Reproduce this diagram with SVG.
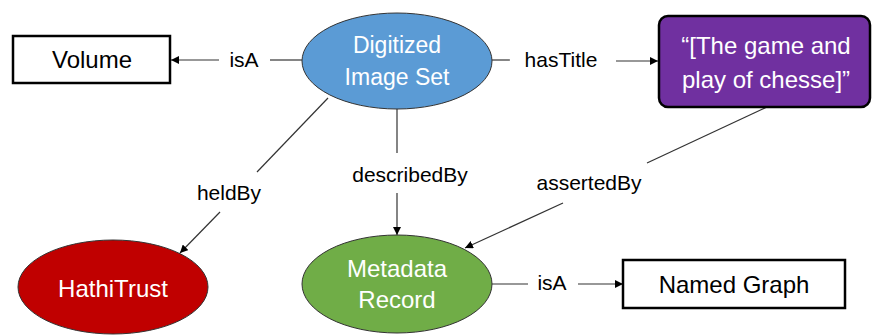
<svg xmlns="http://www.w3.org/2000/svg" width="872" height="335" viewBox="0 0 872 335">
<style>
.lbl{font-family:"Liberation Sans",Arial,sans-serif;font-size:21px;fill:#000;text-anchor:middle}
.nt{font-family:"Liberation Sans",Arial,sans-serif;font-size:24px;text-anchor:middle}
.w{fill:#fff}
.k{fill:#000}
.box{fill:#fff;stroke:#000;stroke-width:2.5}
.ell{stroke:#333;stroke-width:1}
.ln{stroke:#333;stroke-width:1.2;fill:none}
</style>
<defs>
<marker id="ah" viewBox="0 0 10 10" refX="10" refY="5" markerWidth="8" markerHeight="8" markerUnits="userSpaceOnUse" orient="auto">
<path d="M0,0 L10,5 L0,10 z" fill="#000"/>
</marker>
</defs>
<g id="connectors">
<line class="ln" x1="302" y1="60" x2="270" y2="60"/>
<line class="ln" x1="219" y1="60" x2="171" y2="60" marker-end="url(#ah)"/>
<text class="lbl" x="244" y="67">isA</text>
<line class="ln" x1="492" y1="60" x2="510" y2="60"/>
<line class="ln" x1="616" y1="61" x2="658" y2="61" marker-end="url(#ah)"/>
<text class="lbl" x="561" y="67">hasTitle</text>
<line class="ln" x1="328" y1="98" x2="257" y2="172"/>
<line class="ln" x1="220" y1="212" x2="180" y2="253" marker-end="url(#ah)"/>
<text class="lbl" x="229" y="200">heldBy</text>
<line class="ln" x1="397" y1="109" x2="397" y2="153"/>
<line class="ln" x1="397" y1="193" x2="397" y2="235" marker-end="url(#ah)"/>
<text class="lbl" x="410" y="182">describedBy</text>
<line class="ln" x1="767" y1="107" x2="647" y2="163"/>
<line class="ln" x1="563" y1="203" x2="465" y2="248" marker-end="url(#ah)"/>
<text class="lbl" x="589" y="190">assertedBy</text>
<line class="ln" x1="492" y1="284" x2="528" y2="284"/>
<line class="ln" x1="578" y1="284" x2="623" y2="284" marker-end="url(#ah)"/>
<text class="lbl" x="552" y="290">isA</text>
</g>
<g id="volume">
<rect class="box" x="13" y="36" width="157" height="47"/>
<text class="nt k" x="92" y="68">Volume</text>
</g>
<g id="digitized">
<ellipse class="ell" cx="397" cy="61" rx="95" ry="48" fill="#5B9BD5"/>
<text class="nt w" x="397" y="53" style="font-size:23px">Digitized</text>
<text class="nt w" x="397" y="85" style="font-size:23px">Image Set</text>
</g>
<g id="title">
<rect x="659" y="16" width="211" height="91" rx="9" fill="#7030A0" stroke="#000" stroke-width="2.5"/>
<text class="nt w" x="766" y="54">“[The game and</text>
<text class="nt w" x="766" y="88">play of chesse]”</text>
</g>
<g id="hathitrust">
<ellipse class="ell" cx="113" cy="287" rx="95" ry="47" fill="#C00000"/>
<text class="nt w" x="113" y="297">HathiTrust</text>
</g>
<g id="metadata">
<ellipse class="ell" cx="397" cy="284" rx="95" ry="49" fill="#70AD47"/>
<text class="nt w" x="397" y="277">Metadata</text>
<text class="nt w" x="397" y="308">Record</text>
</g>
<g id="namedgraph">
<rect class="box" x="623" y="260" width="222" height="48"/>
<text class="nt k" x="734" y="293">Named Graph</text>
</g>
</svg>
